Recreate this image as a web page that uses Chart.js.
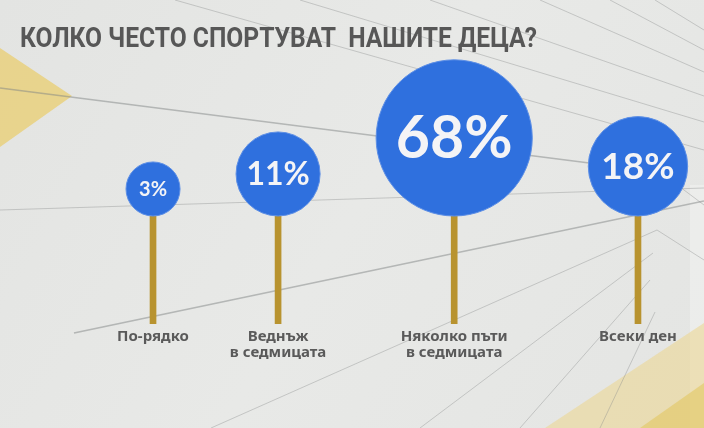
<!DOCTYPE html>
<html>
<head>
<meta charset="utf-8">
<script src="https://cdn.jsdelivr.net/npm/chart.js@4.4.1/dist/chart.umd.min.js"></script>
<style>
  html, body { margin: 0; padding: 0; background: #e6e7e5; overflow: hidden; }
  #wrap { width: 704px; height: 428px; }
</style>
</head>
<body>
<div id="wrap"><canvas id="chart" width="704" height="428"></canvas></div>
<script>
const chartTitle = "КОЛКО ЧЕСТО СПОРТУВАТ  НАШИТЕ ДЕЦА?";
const categories = [
	"По-рядко",
	["Веднъж", "в седмицата"],
	["Няколко пъти", "в седмицата"],
	"Всеки ден",
];
const shares = [3, 11, 68, 18];

// layout constants (pixels)
const W = 704, H = 428;
const FOOT = 324;      // where the stems end
const STEM = 108;      // stem length below each circle
const GAP = 56;        // free space between neighbouring circles
const FIRST_EDGE = 126;

// circle size grows with the share, circles packed left to right
const radiusFor = (v) => 18.6 * Math.pow(v, 0.34);
const radii = shares.map(radiusFor);
const centers = [];
radii.forEach((r, i) => {
	centers.push(i === 0 ? FIRST_EDGE + r : centers[i - 1] + radii[i - 1] + GAP + r);
});

const backdrop = {
	id: "backdrop",
	beforeDraw(chart) {
		const ctx = chart.ctx;
		ctx.save();
		const g = ctx.createLinearGradient(0, 0, W, H);
		g.addColorStop(0, "#e3e4e2");
		g.addColorStop(0.5, "#e8e9e7");
		g.addColorStop(1, "#e4e5e3");
		ctx.fillStyle = g;
		ctx.fillRect(0, 0, W, H);

		// pale panel on the right edge
		ctx.fillStyle = "rgba(255,255,255,0.28)";
		ctx.fillRect(690, 185, 14, 243);

		// yellow shapes
		ctx.fillStyle = "rgba(234,206,112,0.75)";
		ctx.beginPath();
		ctx.moveTo(0, 48); ctx.lineTo(72, 96); ctx.lineTo(0, 147);
		ctx.closePath(); ctx.fill();

		ctx.fillStyle = "rgba(236,214,140,0.55)";
		ctx.beginPath();
		ctx.moveTo(545, 428); ctx.lineTo(704, 323); ctx.lineTo(704, 428);
		ctx.closePath(); ctx.fill();
		ctx.fillStyle = "rgba(226,196,90,0.55)";
		ctx.beginPath();
		ctx.moveTo(640, 428); ctx.lineTo(704, 383); ctx.lineTo(704, 428);
		ctx.closePath(); ctx.fill();

		// thin lines of the studio background
		const heavy = [
			[0, 88, 660, 172],
			[74, 333, 704, 201],
		];
		const light = [
			[0, 210, 704, 188],
			[211, 428, 657, 230],
			[420, 428, 653, 253],
			[520, 428, 650, 280],
			[600, 428, 655, 312],
			[175, 0, 704, 150],
			[300, 0, 704, 122],
			[430, 0, 704, 96],
			[540, 0, 704, 72],
			[610, 0, 704, 50],
			[655, 0, 704, 30],
			[660, 172, 704, 205],
			[657, 230, 704, 260],
		];
		ctx.strokeStyle = "rgba(130,133,133,0.5)";
		ctx.lineWidth = 1.6;
		heavy.forEach(([x1, y1, x2, y2]) => {
			ctx.beginPath(); ctx.moveTo(x1, y1); ctx.lineTo(x2, y2); ctx.stroke();
		});
		ctx.strokeStyle = "rgba(140,143,143,0.4)";
		ctx.lineWidth = 1;
		light.forEach(([x1, y1, x2, y2]) => {
			ctx.beginPath(); ctx.moveTo(x1, y1); ctx.lineTo(x2, y2); ctx.stroke();
		});

		// title, squeezed to the width of the original
		ctx.font = 'bold 27px "Roboto", "Liberation Sans", sans-serif';
		ctx.fillStyle = "#575757";
		ctx.textBaseline = "alphabetic";
		const tw = ctx.measureText(chartTitle).width;
		ctx.translate(20, 47);
		ctx.scale(517 / tw, 1);
		ctx.fillText(chartTitle, 0, 0);
		ctx.restore();
	},
};

const percentLabels = {
	id: "percentLabels",
	afterDatasetsDraw(chart) {
		const ctx = chart.ctx;
		const meta = chart.getDatasetMeta(1);
		ctx.save();
		ctx.fillStyle = "#f4f4f6";
		ctx.textAlign = "center";
		ctx.textBaseline = "middle";
		meta.data.forEach((pt, i) => {
			const size = Math.round(radii[i] * 0.75);
			ctx.font = `bold ${size}px Lato, "Noto Sans", sans-serif`;
			ctx.fillText(shares[i] + "%", pt.x, pt.y + size * 0.02);
		});
		ctx.restore();
	},
};

new Chart(document.getElementById("chart"), {
	type: "bubble",
	data: {
		datasets: [
			{
				type: "bar",
				data: centers.map((x) => ({ x: x, y: STEM })),
				backgroundColor: "#b8932f",
				barThickness: 6,
				order: 2,
			},
			{
				type: "bubble",
				data: centers.map((x, i) => ({ x: x, y: STEM + radii[i], r: radii[i] })),
				backgroundColor: "#2f70de",
				borderColor: "#5d8fe6",
				borderWidth: 1,
				hoverRadius: 0,
				clip: false,
				order: 1,
			},
		],
	},
	options: {
		responsive: false,
		animation: false,
		events: [],
		layout: { padding: 0, autoPadding: false },
		plugins: {
			legend: { display: false },
			tooltip: { enabled: false },
		},
		scales: {
			x: {
				type: "linear",
				min: 0,
				max: W,
				offset: false,
				grid: { display: false, drawTicks: false, offset: false },
				border: { display: false },
				afterBuildTicks: (scale) => {
					scale.ticks = centers.map((v) => ({ value: v }));
				},
				afterFit: (scale) => {
					scale.height = H - FOOT;
				},
				ticks: {
					autoSkip: false,
					maxRotation: 0,
					padding: 5,
					color: "#5a5a5a",
					font: { family: '"Noto Sans", sans-serif', size: 15, weight: "bold", lineHeight: 1.05 },
					callback: (value, index) => categories[index],
				},
			},
			y: {
				display: false,
				min: 0,
				max: FOOT,
			},
		},
	},
	plugins: [backdrop, percentLabels],
});
</script>
</body>
</html>
